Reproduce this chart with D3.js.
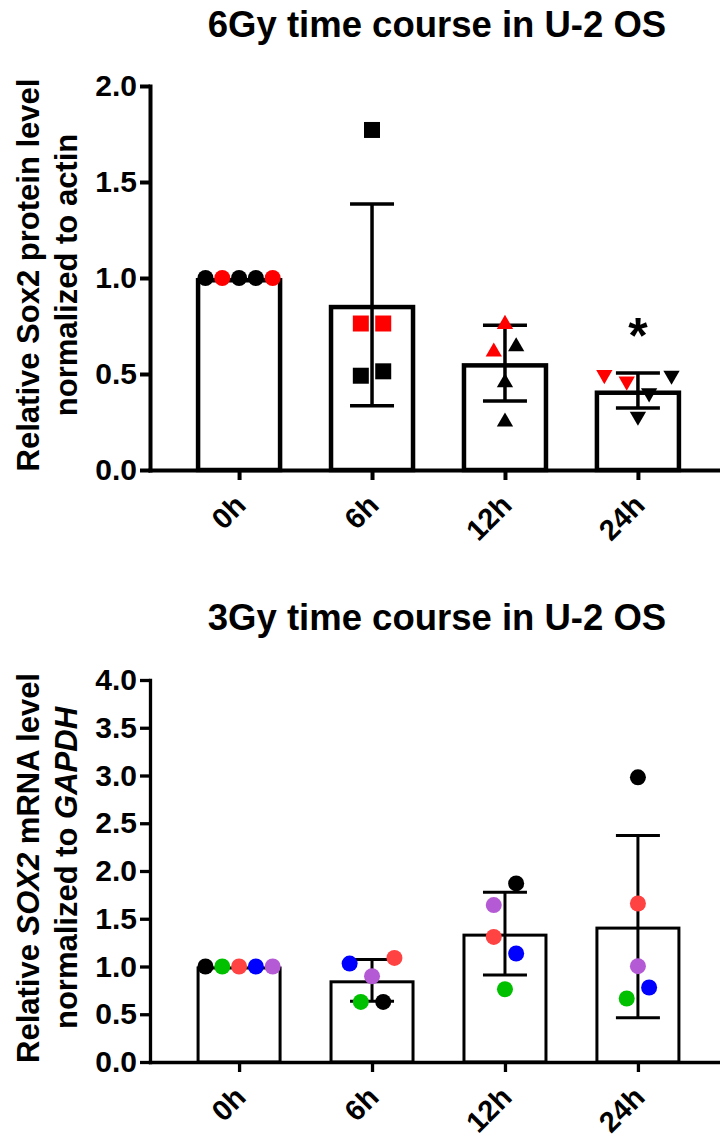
<!DOCTYPE html>
<html><head><meta charset="utf-8">
<script src="https://cdn.jsdelivr.net/npm/d3@7"></script>
<style>
body{margin:0;background:#fff}
svg{display:block}
text{font-family:"Liberation Sans",Arial,Helvetica,sans-serif;font-weight:bold;fill:#000}
</style>
</head><body>
<svg id="chart" width="720" height="1137"></svg>
<script>
// ---------- data ----------
const categories = ["0h", "6h", "12h", "24h"];

// Panel A: Sox2 protein (6 Gy)
const proteinTitle = "6Gy time course in U-2 OS";
const proteinTicks = [0, 0.5, 1.0, 1.5, 2.0];
const proteinValues = [
  [1.0, 1.0, 1.0, 1.0, 1.0],
  [1.771, 0.763, 0.763, 0.491, 0.514],
  [0.771, 0.627, 0.655, 0.467, 0.263],
  [0.484, 0.450, 0.481, 0.389, 0.267]
];
const proteinColorKeys = [
  ["black", "red", "black", "black", "red"],
  ["black", "red", "red", "black", "black"],
  ["red", "red", "black", "black", "black"],
  ["red", "red", "black", "black", "black"]
];
// horizontal scatter slot of each point (in half-marker slots)
const proteinJitter = [
  [-3, -1.5, 0, 1.5, 3],
  [0, -1, 1, -1, 1],
  [0, -1, 1, 0, 0],
  [-3, -1, 3, 1, 0]
];
const proteinShapes = ["circle", "square", "triangle", "triangleDown"];
const proteinSignificance = ["", "", "", "*"];

// Panel B: SOX2 mRNA (3 Gy); replicate order: black, green, red, blue, purple
const mrnaTitle = "3Gy time course in U-2 OS";
const mrnaTicks = [0, 0.5, 1.0, 1.5, 2.0, 2.5, 3.0, 3.5, 4.0];
const mrnaValues = [
  [1.0, 1.0, 1.0, 1.0, 1.0],
  [0.629, 0.629, 1.090, 1.031, 0.898],
  [1.870, 0.762, 1.310, 1.136, 1.643],
  [2.981, 0.665, 1.660, 0.780, 1.003]
];
const mrnaColorKeys = ["black", "green", "red", "blue", "purple"];
const mrnaJitter = [
  [-3, -1.5, 0, 1.5, 3],
  [1, -1, 2, -2, 0],
  [1, 0, -1, 1, -1],
  [0, -1, 0, 1, 0]
];

const palette = {
  black: "#000000", red: "#ff0000", green: "#00c000",
  lightred: "#ff4242", blue: "#0000ff", purple: "#b55ad5"
};

// ---------- drawing ----------
const svg = d3.select("#chart");
const fmt = d3.format(".1f");

function panel(o) {
  const g = svg.append("g");
  const x = d3.scalePoint().domain(categories).range([150, 727]).padding(0.67);
  const y = d3.scaleLinear().domain(o.domain).range(o.yRange);
  const y0 = y(0);

  // title
  g.append("text").attr("x", 437).attr("y", o.titleY)
    .attr("text-anchor", "middle").style("font-size", "36.5px").text(o.title);

  // y label (two lines)
  const yc = (o.yRange[0] + o.yRange[1]) / 2 - 3;
  o.yLabel.forEach((parts, i) => {
    const t = g.append("text")
      .attr("transform", `translate(${[39, 77][i]},${yc}) rotate(-90)`)
      .attr("text-anchor", "middle").style("font-size", "31px");
    parts.forEach(p => t.append("tspan").style("font-style", p.i ? "italic" : "normal").text(p.t));
  });

  // bars
  const means = o.values.map(v => d3.mean(v));
  const sds = o.values.map(v => d3.deviation(v));
  const bw = 82;
  g.append("g").selectAll("rect").data(categories).join("rect")
    .attr("x", d => x(d) - bw / 2)
    .attr("y", (d, i) => y(means[i]) + o.barStroke / 2)
    .attr("width", bw)
    .attr("height", (d, i) => y0 - y(means[i]) - o.barStroke / 2)
    .attr("fill", "#fff").attr("stroke", "#000").attr("stroke-width", o.barStroke);

  // axes
  const yAxis = d3.axisLeft(y).tickValues(o.ticks).tickFormat(fmt)
    .tickSize(10).tickSizeOuter(0).tickPadding(3);
  const ya = g.append("g").attr("transform", "translate(150,0)").call(yAxis);
  const xAxis = d3.axisBottom(x).tickSize(10).tickSizeOuter(0);
  const xa = g.append("g").attr("transform", `translate(0,${y0})`).call(xAxis);
  [ya, xa].forEach(a => {
    a.select(".domain").attr("stroke-width", o.axisStroke).attr("stroke-linecap", "square");
    a.selectAll(".tick line").attr("stroke-width", o.axisStroke);
    a.selectAll("text").style("font-size", "30px").attr("fill", "#000")
      .style("font-family", '"Liberation Sans",Arial,sans-serif').style("font-weight", "bold");
  });
  xa.selectAll(".tick text").attr("y", null).attr("dy", null)
    .attr("text-anchor", "end").attr("transform", "translate(8,37) rotate(-45)")
    .style("font-size", "29px");

  // error bars (mean ± SD)
  const eb = g.append("g").attr("stroke", "#000").attr("stroke-width", o.errStroke);
  categories.forEach((c, i) => {
    const cx = x(c);
    if (!(sds[i] > 1e-9)) return;
    const yt = y(means[i] + sds[i]), yb = y(means[i] - sds[i]);
    eb.append("line").attr("x1", cx).attr("x2", cx).attr("y1", yt).attr("y2", yb);
    [yt, yb].forEach(yy => eb.append("line").attr("x1", cx - 22).attr("x2", cx + 22).attr("y1", yy).attr("y2", yy));
  });

  // points
  const slot = 11.2;
  const pts = [];
  o.values.forEach((vals, i) => vals.forEach((v, j) => pts.push({
    c: categories[i], v, dx: o.jitter[i][j] * slot, color: o.color(i, j), shape: o.shape(i)
  })));
  const sym = {
    circle: d3.symbol().type(d3.symbolCircle).size(Math.PI * 8 * 8)(),
    square: d3.symbol().type(d3.symbolSquare).size(16 * 16)(),
    triangle: d3.symbol().type(d3.symbolTriangle).size(115)()
  };
  g.append("g").selectAll("path").data(pts).join("path")
    .attr("d", d => d.shape === "triangleDown" ? sym.triangle : sym[d.shape])
    .attr("transform", d => {
      const tx = x(d.c) + d.dx, ty = y(d.v);
      if (d.shape === "triangle") return `translate(${tx},${ty + 2.3})`;
      if (d.shape === "triangleDown") return `translate(${tx},${ty - 2.3}) rotate(180)`;
      return `translate(${tx},${ty})`;
    })
    .attr("fill", d => d.color);

  // significance marks
  if (o.sig) {
    categories.forEach((c, i) => {
      if (!o.sig[i]) return;
      g.append("text").attr("x", x(c)).attr("y", y(means[i] + sds[i]) - 20)
        .attr("text-anchor", "middle").style("font-size", "50px").text(o.sig[i]);
    });
  }
}

panel({
  title: proteinTitle, titleY: 37,
  domain: [0, 2], yRange: [470, 86], ticks: proteinTicks,
  values: proteinValues, jitter: proteinJitter,
  color: (i, j) => palette[proteinColorKeys[i][j]],
  shape: i => proteinShapes[i],
  sig: proteinSignificance,
  yLabel: [[{t: "Relative Sox2 protein level"}], [{t: "normalized to actin"}]],
  barStroke: 4.5, axisStroke: 4, errStroke: 3.5
});

panel({
  title: mrnaTitle, titleY: 630,
  domain: [0, 4], yRange: [1062, 680], ticks: mrnaTicks,
  values: mrnaValues, jitter: mrnaJitter,
  color: (i, j) => palette[mrnaColorKeys[j] === "red" ? "lightred" : mrnaColorKeys[j]],
  shape: () => "circle",
  sig: null,
  yLabel: [[{t: "Relative "}, {t: "SOX2", i: true}, {t: " mRNA level"}],
           [{t: "normalized to "}, {t: "GAPDH", i: true}]],
  barStroke: 3, axisStroke: 3.3, errStroke: 3
});
</script>
</body></html>
